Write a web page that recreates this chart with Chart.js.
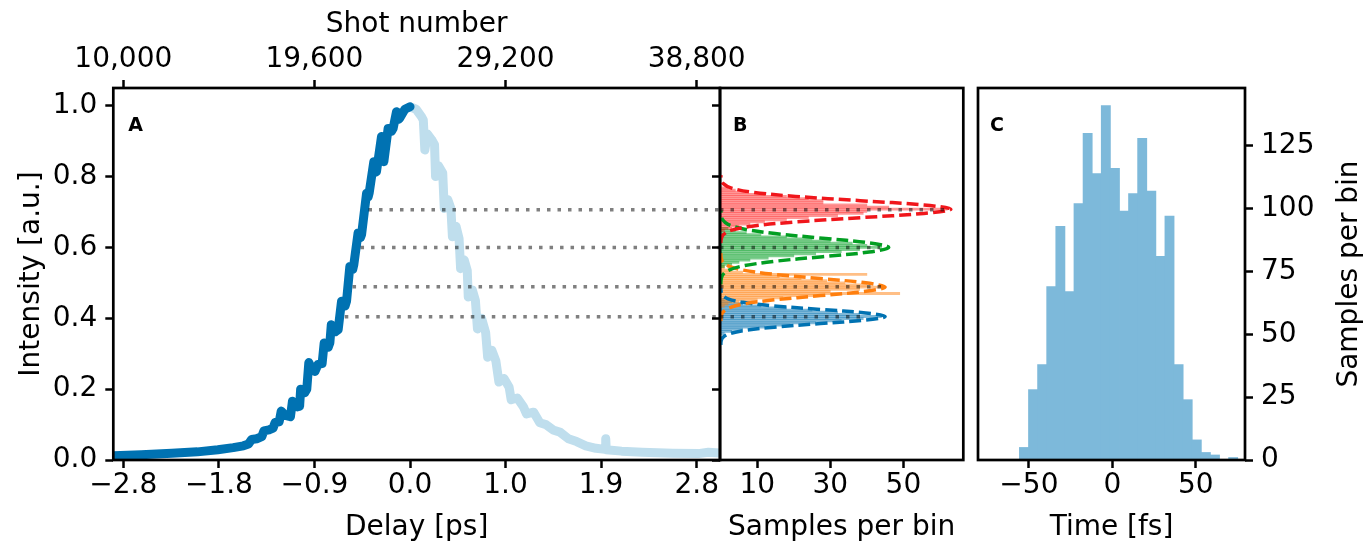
<!DOCTYPE html>
<html>
<head>
<meta charset="utf-8">
<script src="https://cdn.jsdelivr.net/npm/chart.js@4.4.1/dist/chart.umd.min.js"></script>
<style>
  html, body { margin: 0; padding: 0; background: #fff; }
  #wrap { position: relative; width: 1369px; height: 544px; overflow: hidden; }
  canvas { position: absolute; top: 0; }
</style>
</head>
<body>
<div id="wrap">
  <canvas id="chartA" width="770" height="544" style="left:0px"></canvas>
  <canvas id="chartB" width="275" height="544" style="left:700px"></canvas>
  <canvas id="chartC" width="409" height="544" style="left:960px"></canvas>
</div>
<script>
/* ================= DATA ================= */

// shot number <-> delay mapping (top / bottom axis of panel A)
const SHOT_REF = 24400;
const DELAY_REF = 0.03;
const PS_PER_SHOT = 0.935 / 4800;
const shotTicks = [10000, 19600, 29200, 38800];
const delayTickShots = [10000, 14800, 19600, 24400, 29200, 34000, 38800];
const delayTickLabels = ["\u22122.8", "\u22121.8", "\u22120.9", "0.0", "1.0", "1.9", "2.8"];
const intensityTicks = [0, 0.2, 0.4, 0.6, 0.8, 1.0];

// panel A: rising edge (dark) and falling edge (light)
const riseDelay = [-2.87, -2.6, -2.3, -2.05, -1.85, -1.7, -1.6, -1.55, -1.52, -1.47, -1.42, -1.40,
  -1.35, -1.31, -1.29, -1.25, -1.23, -1.19, -1.14, -1.12, -1.07, -1.05, -1.04, -1.00, -0.98,
  -0.96, -0.93, -0.90, -0.87, -0.83, -0.81, -0.77, -0.754, -0.74, -0.70, -0.673, -0.64, -0.605,
  -0.591, -0.559, -0.53, -0.52, -0.478, -0.455, -0.444, -0.395, -0.38, -0.37, -0.324, -0.31,
  -0.298, -0.249, -0.235, -0.226, -0.184, -0.15, -0.135, -0.102, -0.08, -0.07, -0.02, 0.03];
const riseIntensity = [0.012, 0.015, 0.019, 0.023, 0.029, 0.035, 0.040, 0.045, 0.058, 0.060, 0.066, 0.082,
  0.085, 0.090, 0.106, 0.108, 0.138, 0.126, 0.122, 0.166, 0.150, 0.152, 0.200, 0.190, 0.200,
  0.275, 0.255, 0.250, 0.270, 0.272, 0.330, 0.318, 0.331, 0.382, 0.362, 0.368, 0.448, 0.435,
  0.448, 0.546, 0.538, 0.551, 0.641, 0.628, 0.636, 0.753, 0.742, 0.753, 0.842, 0.812,
  0.814, 0.913, 0.852, 0.842, 0.936, 0.928, 0.936, 0.983, 0.962, 0.965, 0.990, 0.997];

const fallDelay = [0.03, 0.09, 0.14, 0.16, 0.175, 0.20, 0.24, 0.27, 0.28, 0.31, 0.35, 0.365, 0.40,
  0.43, 0.445, 0.48, 0.51, 0.525, 0.56, 0.59, 0.60, 0.64, 0.67, 0.69, 0.73, 0.77, 0.79, 0.83,
  0.87, 0.90, 0.95, 1.00, 1.02, 1.08, 1.14, 1.17, 1.24, 1.30, 1.36, 1.43, 1.50, 1.58, 1.66,
  1.75, 1.85, 1.94, 1.945, 1.95, 2.1, 2.3, 2.6, 2.85, 2.95, 3.06];
const fallIntensity = [0.997, 0.99, 0.97, 0.96, 0.875, 0.92, 0.905, 0.89, 0.80, 0.83, 0.81, 0.71, 0.735,
  0.71, 0.63, 0.66, 0.625, 0.54, 0.565, 0.535, 0.46, 0.48, 0.45, 0.37, 0.40, 0.36, 0.29, 0.31,
  0.28, 0.22, 0.23, 0.205, 0.17, 0.175, 0.15, 0.13, 0.135, 0.105, 0.10, 0.085, 0.078, 0.06, 0.052,
  0.04, 0.033, 0.03, 0.06, 0.029, 0.025, 0.022, 0.019, 0.018, 0.022, 0.02];

// cut levels (dotted lines) joining panel A and B
const cutLevels = [0.706, 0.600, 0.489, 0.404];
const cutStartDelay = [-0.376, -0.454, -0.532, -0.608];
const cutEndCount = [62, 43.6, 44.4, 40];

// panel B: histograms of each cut (bin start, counts)
const HIST_BIN = 0.006;
const redHistStart = 0.648;
const redHist = [1, 3, 5, 8, 12, 18, 24, 32, 39, 40, 62, 46, 40, 28, 28, 24, 18, 12, 7, 4, 2];
const greenHistStart = 0.546;
const greenHist = [1, 3, 5, 8, 13, 20, 26, 33, 38, 44, 40, 36, 30, 25, 18, 11, 7, 4, 2];
const orangeHistStart = 0.434;
const orangeHist = [1, 2, 5, 10, 17, 28, 49, 30, 38, 44, 40, 34, 29, 22, 16, 40, 6, 3, 1, 1];
const blueHistStart = 0.357;
const blueHist = [1, 3, 6, 12, 19, 26, 33, 39, 44, 38, 32, 25, 18, 11, 6, 3, 1];
const sampleTicks = [10, 30, 50];

// panel B: gaussian fits (intensity level, samples)
const redFitLevel = [0.612, 0.624, 0.636, 0.648, 0.660, 0.672, 0.684, 0.696, 0.708, 0.720, 0.732, 0.744, 0.756, 0.768, 0.780, 0.792, 0.804];
const redFitCount = [0.02, 0.14, 0.70, 2.77, 8.5, 20.5, 38.2, 55.6, 63, 55.6, 38.2, 20.5, 8.5, 2.77, 0.70, 0.14, 0.02];
const greenFitLevel = [0.496, 0.509, 0.522, 0.535, 0.548, 0.561, 0.574, 0.587, 0.600, 0.613, 0.626, 0.639, 0.652, 0.665, 0.678, 0.691, 0.704];
const greenFitCount = [0.02, 0.10, 0.51, 2.0, 6.2, 14.9, 27.9, 40.6, 46, 40.6, 27.9, 14.9, 6.2, 2.0, 0.51, 0.10, 0.02];
const orangeFitLevel = [0.392, 0.404, 0.416, 0.428, 0.440, 0.452, 0.464, 0.476, 0.488, 0.500, 0.512, 0.524, 0.536, 0.548, 0.560, 0.572, 0.584];
const orangeFitCount = [0.02, 0.10, 0.50, 2.0, 6.1, 14.6, 27.3, 39.7, 45, 39.7, 27.3, 14.6, 6.1, 2.0, 0.50, 0.10, 0.02];
const blueFitLevel = [0.325, 0.335, 0.345, 0.355, 0.365, 0.375, 0.385, 0.395, 0.405, 0.415, 0.425, 0.435, 0.445, 0.455, 0.465, 0.475, 0.485];
const blueFitCount = [0.02, 0.10, 0.50, 2.0, 6.1, 14.6, 27.3, 39.7, 45, 39.7, 27.3, 14.6, 6.1, 2.0, 0.50, 0.10, 0.02];

// panel C: time histogram
const timeBinStart = -55.67;
const timeBinWidth = 5.45;
const timeCounts = [5, 28, 38, 69, 93, 67, 102, 130, 114, 141, 116, 99, 106, 128, 107, 81, 97, 38, 24, 8, 3, 2, 0, 1];
const timeTicks = [-50, 0, 50];
const countTicks = [0, 25, 50, 75, 100, 125];

/* ================= HELPERS ================= */

const FONT = "DejaVu Sans";
Chart.defaults.font.family = FONT;
Chart.defaults.color = "#000";

const toDelay = (s) => DELAY_REF + (s - SHOT_REF) * PS_PER_SHOT;
const minus = (v) => (v < 0 ? "\u2212" + Math.abs(v) : String(v));
const zip = (xs, ys) => xs.map((x, i) => ({ x: x, y: ys[i] }));

const tickFont = { family: FONT, size: 28, lineHeight: 1 };
const titleFont = { family: FONT, size: 28, lineHeight: 1.2 };

function tickGrid() {
  return { display: true, drawOnChartArea: false, drawTicks: true, tickLength: 8,
    tickWidth: 2.5, tickColor: "#000", offset: false };
}

// pin the size of an axis box so the plot areas line up between canvases
function fixSize(size) {
  return function (axis) {
    if (axis.isHorizontal()) axis.height = size;
    else axis.width = size;
    axis.paddingLeft = 0; axis.paddingRight = 0;
    axis.paddingTop = 0; axis.paddingBottom = 0;
  };
}

function setTicks(values) {
  return function (axis) {
    axis.ticks = values.map((v) => ({ value: v }));
  };
}

// black box round the plot area + panel letter
const framePlugin = {
  id: "frame",
  afterDatasetsDraw(chart, args, opts) {
    const { ctx, chartArea: a } = chart;
    ctx.save();
    ctx.strokeStyle = "#000";
    ctx.lineWidth = 2.7;
    ctx.strokeRect(a.left, a.top, a.right - a.left, a.bottom - a.top);
    ctx.font = "bold 19px '" + FONT + "'";
    ctx.fillStyle = "#000";
    ctx.textBaseline = "middle";
    ctx.textAlign = "left";
    ctx.fillText(opts.letter, a.left + opts.dx, a.top + opts.dy);
    if (opts.rightTitle) {
      ctx.font = "28px '" + FONT + "'";
      ctx.textAlign = "center";
      ctx.translate(opts.rightTitleX, (a.top + a.bottom) / 2);
      ctx.rotate(-Math.PI / 2);
      ctx.fillText(opts.rightTitle, 0, 0);
    }
    ctx.restore();
  },
};

const baseOptions = {
  responsive: false,
  animation: false,
  events: [],
};

/* ================= PANEL A ================= */

const A_MIN = -2.873;
const A_MAX = 3.063;

const cutLinesA = cutLevels.map((lv, i) => ({
  data: [{ x: cutStartDelay[i], y: lv }, { x: A_MAX, y: lv }],
  showLine: true,
  borderColor: "rgba(0,0,0,0.5)",
  borderWidth: 3.5,
  borderDash: [3.5, 7],
  borderCapStyle: "butt",
  pointRadius: 0,
  clip: 0,
  order: 0,
}));

new Chart(document.getElementById("chartA"), {
  type: "scatter",
  data: {
    datasets: cutLinesA.concat([
      {
        data: zip(riseDelay, riseIntensity),
        showLine: true,
        borderColor: "#0072b2",
        borderWidth: 9,
        borderJoinStyle: "round",
        borderCapStyle: "round",
        pointRadius: 0,
        clip: 0,
        order: 1,
      },
      {
        data: zip(fallDelay, fallIntensity),
        showLine: true,
        borderColor: "#bfdeed",
        borderWidth: 9,
        borderJoinStyle: "round",
        borderCapStyle: "round",
        pointRadius: 0,
        clip: 0,
        order: 2,
      },
    ]),
  },
  options: {
    ...baseOptions,
    layout: { padding: { left: 0, right: 50, top: 0, bottom: 0 } },
    plugins: {
      legend: { display: false },
      tooltip: { enabled: false },
      frame: { letter: "A", dx: 15, dy: 38 },
    },
    scales: {
      x: {
        type: "linear", position: "bottom", min: A_MIN, max: A_MAX,
        afterBuildTicks: setTicks(delayTickShots.map(toDelay)),
        afterFit: fixSize(84),
        grid: tickGrid(), border: { display: false },
        ticks: { font: tickFont, padding: 4, maxRotation: 0, autoSkip: false,
          callback: (v, i) => delayTickLabels[i] },
        title: { display: true, text: "Delay [ps]", font: titleFont, padding: { top: 0, bottom: -1 } },
      },
      xTop: {
        type: "linear", axis: "x", position: "top", min: A_MIN, max: A_MAX,
        afterBuildTicks: setTicks(shotTicks.map(toDelay)),
        afterFit: fixSize(88),
        grid: tickGrid(), border: { display: false },
        ticks: { font: tickFont, padding: 6, maxRotation: 0, autoSkip: false,
          callback: (v, i) => shotTicks[i].toLocaleString("en-US") },
        title: { display: true, text: "Shot number", font: titleFont, padding: { top: 8, bottom: 0 } },
      },
      y: {
        type: "linear", position: "left", min: 0, max: 1.05,
        afterBuildTicks: setTicks(intensityTicks),
        afterFit: fixSize(113.3),
        grid: tickGrid(), border: { display: false },
        ticks: { font: tickFont, padding: 8, callback: (v) => v.toFixed(1) },
        title: { display: true, text: "Intensity [a.u.]", font: titleFont, padding: { top: 15, bottom: 0 } },
      },
    },
  },
  plugins: [framePlugin],
});

/* ================= PANEL B ================= */

const B_MIN = -0.2;
const B_MAX = 66.4;

const histSets = [
  [redHistStart, redHist, "rgba(255,0,0,0.41)"],
  [greenHistStart, greenHist, "rgba(2,158,34,0.5)"],
  [orangeHistStart, orangeHist, "rgba(255,127,14,0.5)"],
  [blueHistStart, blueHist, "rgba(0,114,178,0.5)"],
].map(([start, counts, color]) => ({
  type: "bar",
  indexAxis: "y",
  data: counts.map((c, i) => ({ x: c, y: start + i * HIST_BIN })),
  backgroundColor: color,
  borderWidth: 0,
  barThickness: 2.13,
  grouped: false,
  order: 2,
}));

const fitSets = [
  [redFitCount, redFitLevel, "#f0161b"],
  [greenFitCount, greenFitLevel, "#029e22"],
  [orangeFitCount, orangeFitLevel, "#ff7f0e"],
  [blueFitCount, blueFitLevel, "#0072b2"],
].map(([counts, levels, color]) => ({
  data: zip(counts, levels),
  showLine: true,
  borderColor: color,
  borderWidth: 3.5,
  borderDash: [12, 5],
  tension: 0.35,
  pointRadius: 0,
  clip: 0,
  order: 1,
}));

const cutLinesB = cutLevels.map((lv, i) => ({
  data: [{ x: B_MIN, y: lv }, { x: cutEndCount[i], y: lv }],
  showLine: true,
  borderColor: "rgba(0,0,0,0.5)",
  borderWidth: 3.5,
  borderDash: [3.5, 7],
  borderCapStyle: "butt",
  pointRadius: 0,
  clip: 0,
  order: 0,
}));

new Chart(document.getElementById("chartB"), {
  type: "scatter",
  data: { datasets: cutLinesB.concat(fitSets, histSets) },
  options: {
    ...baseOptions,
    layout: { padding: { left: 0, right: 11.7, top: 88, bottom: 0 } },
    plugins: {
      legend: { display: false },
      tooltip: { enabled: false },
      frame: { letter: "B", dx: 13, dy: 38 },
    },
    scales: {
      x: {
        type: "linear", position: "bottom", min: B_MIN, max: B_MAX, offset: false,
        afterBuildTicks: setTicks(sampleTicks),
        afterFit: fixSize(84),
        grid: tickGrid(), border: { display: false },
        ticks: { font: tickFont, padding: 4, maxRotation: 0, autoSkip: false },
        title: { display: true, text: "Samples per bin", font: titleFont, padding: { top: 0, bottom: -1 } },
      },
      y: {
        type: "linear", position: "left", min: 0, max: 1.05, offset: false,
        afterBuildTicks: setTicks(intensityTicks),
        afterFit: fixSize(20),
        grid: tickGrid(), border: { display: false },
        ticks: { font: tickFont, padding: 0, callback: () => "" },
      },
    },
  },
  plugins: [framePlugin],
});

/* ================= PANEL C ================= */

new Chart(document.getElementById("chartC"), {
  type: "bar",
  data: {
    datasets: [
      {
        data: timeCounts.map((c, i) => ({ x: timeBinStart + (i + 0.5) * timeBinWidth, y: c })),
        backgroundColor: "#7db9da",
        borderWidth: 0,
        barThickness: 9.2,
        grouped: false,
      },
    ],
  },
  options: {
    ...baseOptions,
    layout: { padding: { left: 18, right: 0, top: 88, bottom: 0 } },
    plugins: {
      legend: { display: false },
      tooltip: { enabled: false },
      frame: { letter: "C", dx: 12, dy: 38, rightTitle: "Samples per bin", rightTitleX: 390 },
    },
    scales: {
      x: {
        type: "linear", position: "bottom", min: -80.5, max: 79.5, offset: false,
        afterBuildTicks: setTicks(timeTicks),
        afterFit: fixSize(84),
        grid: tickGrid(), border: { display: false },
        ticks: { font: tickFont, padding: 4, maxRotation: 0, autoSkip: false, callback: (v) => minus(v) },
        title: { display: true, text: "Time [fs]", font: titleFont, padding: { top: 0, bottom: -1 } },
      },
      y: {
        type: "linear", position: "right", min: 0, max: 148,
        afterBuildTicks: setTicks(countTicks),
        afterFit: fixSize(124),
        grid: tickGrid(), border: { display: false },
        ticks: { font: tickFont, padding: 8 },
      },
    },
  },
  plugins: [framePlugin],
});
</script>
</body>
</html>
